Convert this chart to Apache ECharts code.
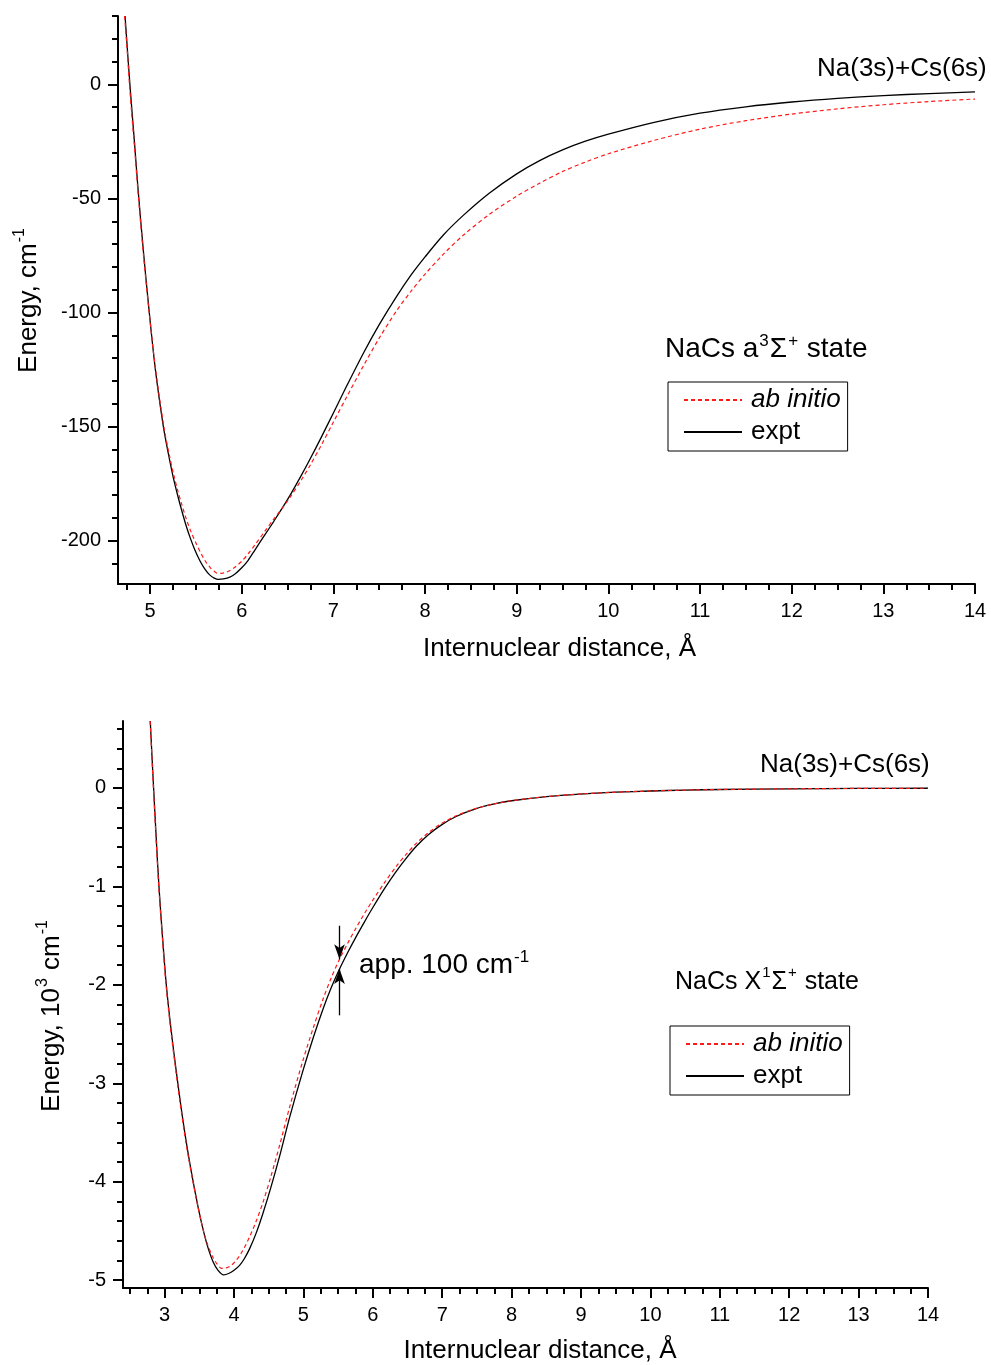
<!DOCTYPE html>
<html>
<head>
<meta charset="utf-8">
<script src="https://cdn.jsdelivr.net/npm/echarts@6/dist/echarts.min.js"></script>
<style>
  html, body { margin: 0; padding: 0; background: #fff; }
  #chart { width: 991px; height: 1365px; }
</style>
</head>
<body>
<div id="chart"></div>
<script>
// ---- NaCs a3Σ+ state: energy (cm^-1) vs internuclear distance (Å) ----
const tripletExptR = [4.727, 4.753, 4.78, 4.806, 4.83, 4.87, 4.927, 4.99, 5.058, 5.145, 5.20, 5.254, 5.30, 5.34, 5.39, 5.44, 5.49, 5.545, 5.60, 5.65, 5.70, 5.745, 5.80, 5.87, 5.93, 6.0, 6.07, 6.145, 6.25, 6.35, 6.45, 6.53, 6.65, 6.75, 6.87, 7.0, 7.15, 7.33, 7.5, 7.69, 7.85, 8.0, 8.2, 8.42, 8.7, 9.0, 9.25, 9.5, 9.75, 10.0, 10.5, 11.0, 11.5, 12.0, 12.5, 13.0, 13.5, 14.0];
const tripletExptE = [30, 15, 0, -13.5, -25.5, -46.5, -73, -99.5, -125, -150, -162, -172.5, -180, -186, -193, -199, -204.2, -208.9, -212.6, -215, -216.4, -217, -216.8, -216, -214.5, -211.9, -208.6, -204, -197.6, -191.5, -185.2, -179.9, -171.4, -163.9, -154.5, -144, -131.8, -117.6, -105.3, -92.9, -83.4, -75.6, -66, -57.3, -47.7, -39.2, -33.4, -28.7, -24.9, -21.8, -16.6, -12.6, -9.8, -7.7, -6.1, -4.9, -4.0, -3.3];

const tripletAbR = [4.722, 4.75, 4.775, 4.80, 4.826, 4.868, 4.925, 4.99, 5.06, 5.15, 5.205, 5.26, 5.305, 5.345, 5.395, 5.45, 5.50, 5.555, 5.61, 5.66, 5.70, 5.73, 5.78, 5.85, 5.92, 6.0, 6.07, 6.145, 6.25, 6.35, 6.45, 6.53, 6.65, 6.75, 6.87, 7.0, 7.15, 7.33, 7.5, 7.69, 7.85, 8.0, 8.2, 8.42, 8.7, 9.0, 9.25, 9.5, 9.75, 10.0, 10.5, 11.0, 11.5, 12.0, 12.5, 13.0, 13.5, 14.0];
const tripletAbE = [30, 15, 0, -13, -25.5, -47, -73.5, -100, -125, -150, -161.5, -171.5, -178.5, -184, -190.5, -196.5, -201, -205.6, -209.4, -212, -213.4, -214.2, -214.3, -213.5, -211.8, -209, -205.8, -201.8, -196, -190.5, -185.3, -180.8, -173.4, -166.7, -158, -148, -136.6, -123.2, -111.2, -99.2, -90.5, -83.2, -74.4, -66, -57, -49, -43.3, -38.2, -34, -30.4, -24.5, -19.6, -15.9, -13.0, -10.7, -8.9, -7.5, -6.4];

// ---- NaCs X1Σ+ state: energy (10^3 cm^-1) vs internuclear distance (Å) ----
const singletExptR = [2.793, 2.815, 2.841, 2.878, 2.918, 2.968, 3.024, 3.095, 3.177, 3.23, 3.288, 3.35, 3.408, 3.48, 3.552, 3.62, 3.696, 3.77, 3.85, 3.93, 4.0, 4.08, 4.15, 4.225, 4.32, 4.417, 4.53, 4.657, 4.8, 4.99, 5.14, 5.28, 5.40, 5.52, 5.64, 5.76, 5.88, 6.0, 6.17, 6.34, 6.48, 6.63, 6.8, 6.99, 7.2, 7.49, 7.75, 8.0, 8.5, 8.98, 9.5, 10.0, 10.5, 11.0, 12.0, 13.0, 14.0];
const singletExptE = [0.68, 0.36, 0, -0.5, -1.0, -1.5, -2.0, -2.47, -2.93, -3.21, -3.49, -3.76, -3.99, -4.25, -4.48, -4.66, -4.81, -4.9, -4.946, -4.93, -4.90, -4.85, -4.78, -4.68, -4.52, -4.32, -4.06, -3.74, -3.35, -2.88, -2.54, -2.25, -2.03, -1.84, -1.67, -1.51, -1.36, -1.215, -1.02, -0.845, -0.715, -0.59, -0.475, -0.375, -0.29, -0.21, -0.163, -0.13, -0.088, -0.062, -0.043, -0.031, -0.022, -0.016, -0.009, -0.005, -0.003];

const singletAbR = [2.791, 2.813, 2.838, 2.875, 2.915, 2.965, 3.02, 3.09, 3.172, 3.225, 3.282, 3.345, 3.40, 3.47, 3.545, 3.61, 3.69, 3.76, 3.82, 3.89, 3.96, 4.03, 4.10, 4.17, 4.225, 4.32, 4.417, 4.53, 4.657, 4.8, 4.99, 5.14, 5.28, 5.40, 5.52, 5.64, 5.76, 5.88, 6.0, 6.17, 6.34, 6.48, 6.63, 6.8, 6.99, 7.2, 7.49, 7.75, 8.0, 8.5, 8.98, 9.5, 10.0, 10.5, 11.0, 12.0, 13.0, 14.0];
const singletAbE = [0.68, 0.36, 0, -0.5, -1.0, -1.5, -2.0, -2.47, -2.93, -3.21, -3.49, -3.76, -3.97, -4.22, -4.46, -4.62, -4.76, -4.84, -4.88, -4.875, -4.85, -4.80, -4.73, -4.64, -4.56, -4.40, -4.21, -3.95, -3.63, -3.245, -2.775, -2.44, -2.15, -1.93, -1.74, -1.575, -1.42, -1.275, -1.14, -0.96, -0.795, -0.675, -0.56, -0.455, -0.362, -0.283, -0.207, -0.162, -0.13, -0.088, -0.062, -0.043, -0.031, -0.022, -0.016, -0.009, -0.005, -0.003];

// gap marker between the two X-state curves at R = 5.52 Å (10^3 cm^-1)
const gapR = 5.52;
const gapArrowDown = [-1.40, -1.74];
const gapArrowUp = [-2.31, -1.84];

// ---- axis ranges and tick labels ----
const topXRange = [4.65, 14];
const topYRange = [-219, 30];
const topXTicks = [5, 6, 7, 8, 9, 10, 11, 12, 13, 14];
const topYTicks = [0, -50, -100, -150, -200];
const botXRange = [2.4, 14];
const botYRange = [-5.08, 0.68];
const botXTicks = [3, 4, 5, 6, 7, 8, 9, 10, 11, 12, 13, 14];
const botYTicks = [0, -1, -2, -3, -4, -5];

function steps(a, b, d) {
  const out = [];
  for (let v = a; v <= b + 1e-9; v += d) out.push(+v.toFixed(4));
  return out;
}
const topXMinor = steps(4.75, 14, 0.25);
const topYMinor = steps(-210, 30, 10);
const botXMinor = steps(2.5, 14, 0.25);
const botYMinor = steps(-5, 0.6, 0.2);

function zip(xs, ys) { return xs.map((x, i) => [x, ys[i]]); }

const FONT = 'Liberation Sans, Arial, sans-serif';
const BLACK = '#000';
const RED = '#ff1a1a';

function supRich(size) {
  return {
    n: { fontSize: size, fontFamily: FONT, color: BLACK, lineHeight: 30, verticalAlign: 'bottom' },
    s: { fontSize: Math.round(size * 0.6), fontFamily: FONT, color: BLACK, lineHeight: 30, verticalAlign: 'top', padding: [0, 1, 0, 1] },
    i: { fontSize: size, fontFamily: FONT, color: BLACK, fontStyle: 'italic' }
  };
}

function majorAxis(dim, grid, range, ticks, name, nameGap, namePadding) {
  const isX = dim === 'x';
  return {
    type: 'value', gridIndex: grid, min: range[0], max: range[1],
    position: isX ? 'bottom' : 'left',
    axisLine: { show: true, onZero: false, lineStyle: { color: BLACK, width: 2 } },
    axisTick: { show: true, customValues: ticks, length: 10, lineStyle: { color: BLACK, width: 2 } },
    axisLabel: { show: true, customValues: ticks, margin: 17, color: BLACK, fontSize: 20, fontFamily: FONT },
    splitLine: { show: false },
    name: name, nameLocation: 'middle', nameGap: nameGap,
    nameRotate: isX ? 0 : 90,
    nameTextStyle: { fontSize: 26, fontFamily: FONT, color: BLACK, rich: supRich(26), padding: namePadding }
  };
}
function minorAxis(dim, grid, range, ticks) {
  return {
    type: 'value', gridIndex: grid, min: range[0], max: range[1],
    position: dim === 'x' ? 'bottom' : 'left',
    axisLine: { show: false, onZero: false },
    axisTick: { show: true, customValues: ticks, length: 6, lineStyle: { color: BLACK, width: 2 } },
    axisLabel: { show: false },
    splitLine: { show: false }
  };
}

function legendFor(left, top) {
  return {
    orient: 'vertical', left: left, top: top,
    data: ['ab initio', 'expt'],
    selectedMode: false,
    itemWidth: 58, itemHeight: 14, itemGap: 6,
    padding: [5, 7, 6, 15],
    borderColor: BLACK, borderWidth: 1,
    itemStyle: { opacity: 0 },
    formatter: n => n === 'ab initio' ? '{i|ab initio}' : n,
    textStyle: { fontSize: 26, fontFamily: FONT, color: BLACK, padding: [0, 0, 0, 4], rich: { i: supRich(26).i } }
  };
}

const chart = echarts.init(document.getElementById('chart'), null, { renderer: 'canvas' });

chart.setOption({
  animation: false,
  backgroundColor: '#fff',
  grid: [
    { left: 118, top: 16, width: 857, height: 568 },
    { left: 123, top: 721, width: 805, height: 569 }
  ],
  xAxis: [
    majorAxis('x', 0, topXRange, topXTicks, 'Internuclear distance, Å', 52, [0, 0, 0, 26]),
    minorAxis('x', 0, topXRange, topXMinor),
    majorAxis('x', 1, botXRange, botXTicks, 'Internuclear distance, Å', 50, [0, 0, 0, 29]),
    minorAxis('x', 1, botXRange, botXMinor)
  ],
  yAxis: [
    majorAxis('y', 0, topYRange, topYTicks, '{n|Energy, cm}{s|-1}', 76, 0),
    minorAxis('y', 0, topYRange, topYMinor),
    majorAxis('y', 1, botYRange, botYTicks, '{n|Energy, 10}{s|3}{n| cm}{s|-1}', 58, [0, 22, 0, 0]),
    minorAxis('y', 1, botYRange, botYMinor)
  ],
  legend: [legendFor(668, 382), legendFor(670, 1026)],
  series: [
    {
      type: 'line', name: 'expt', xAxisIndex: 0, yAxisIndex: 0,
      data: zip(tripletExptR, tripletExptE),
      symbol: 'none', smooth: 0.3, clip: true,
      lineStyle: { color: BLACK, width: 1.3 }, itemStyle: { color: BLACK }, z: 2
    },
    {
      type: 'line', name: 'ab initio', xAxisIndex: 0, yAxisIndex: 0,
      data: zip(tripletAbR, tripletAbE),
      symbol: 'none', smooth: 0.3, clip: true,
      lineStyle: { color: RED, width: 1.2, type: [4, 3] }, itemStyle: { color: RED }, z: 3
    },
    {
      type: 'line', name: 'expt', xAxisIndex: 2, yAxisIndex: 2,
      data: zip(singletExptR, singletExptE),
      symbol: 'none', smooth: 0.3, clip: true,
      lineStyle: { color: BLACK, width: 1.3 }, itemStyle: { color: BLACK }, z: 2,
      markLine: {
        silent: true, symbol: ['none', 'arrow'], symbolSize: [8, 15],
        label: { show: false },
        lineStyle: { color: BLACK, width: 1.3, type: 'solid' },
        data: [
          [{ coord: [gapR, gapArrowDown[0]] }, { coord: [gapR, gapArrowDown[1]] }],
          [{ coord: [gapR, gapArrowUp[0]] }, { coord: [gapR, gapArrowUp[1]] }]
        ]
      }
    },
    {
      type: 'line', name: 'ab initio', xAxisIndex: 2, yAxisIndex: 2,
      data: zip(singletAbR, singletAbE),
      symbol: 'none', smooth: 0.3, clip: true,
      lineStyle: { color: RED, width: 1.2, type: [4, 3] }, itemStyle: { color: RED }, z: 3
    }
  ],
  graphic: [
    { type: 'text', left: 817, top: 56, style: { text: 'Na(3s)+Cs(6s)', font: '26px ' + FONT, fill: BLACK } },
    { type: 'text', left: 760, top: 752, style: { text: 'Na(3s)+Cs(6s)', font: '26px ' + FONT, fill: BLACK } },
    { type: 'text', left: 665, top: 333, style: { text: '{n|NaCs a}{s|3}{n|Σ}{s|+}{n| state}', rich: supRich(28) } },
    { type: 'text', left: 675, top: 965, style: { text: '{n|NaCs X}{s|1}{n|Σ}{s|+}{n| state}', rich: supRich(25) } },
    { type: 'text', left: 359, top: 949, style: { text: '{n|app. 100 cm}{s|-1}', rich: supRich(28) } }
  ]
});
</script>
</body>
</html>
